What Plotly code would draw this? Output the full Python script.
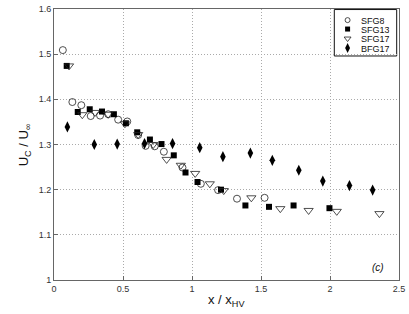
import plotly.graph_objects as go

sfg8_x = [0.064, 0.133, 0.198, 0.266, 0.334, 0.393, 0.465, 0.531, 0.610, 0.664, 0.730, 0.796, 0.931, 1.064, 1.189, 1.326, 1.526]
sfg8_y = [1.509, 1.394, 1.387, 1.363, 1.364, 1.367, 1.355, 1.351, 1.321, 1.297, 1.296, 1.284, 1.249, 1.213, 1.199, 1.180, 1.182]

sfg13_x = [0.092, 0.172, 0.259, 0.348, 0.434, 0.521, 0.603, 0.695, 0.779, 0.868, 0.953, 1.040, 1.210, 1.387, 1.558, 1.736, 1.996]
sfg13_y = [1.474, 1.372, 1.378, 1.373, 1.367, 1.347, 1.327, 1.311, 1.301, 1.276, 1.238, 1.217, 1.200, 1.165, 1.162, 1.165, 1.159]

sfg17_x = [0.109, 0.205, 0.297, 0.392, 0.514, 0.610, 0.719, 0.816, 0.919, 1.023, 1.129, 1.230, 1.430, 1.640, 1.845, 2.049, 2.358]
sfg17_y = [1.474, 1.366, 1.371, 1.367, 1.346, 1.322, 1.300, 1.267, 1.254, 1.236, 1.213, 1.198, 1.182, 1.158, 1.154, 1.152, 1.147]

bfg17_x = [0.097, 0.292, 0.458, 0.656, 0.859, 1.056, 1.224, 1.423, 1.582, 1.774, 1.948, 2.141, 2.309]
bfg17_y = [1.339, 1.300, 1.301, 1.302, 1.302, 1.293, 1.273, 1.281, 1.265, 1.243, 1.219, 1.209, 1.199]

series_names = ["SFG8", "SFG13", "SFG17", "BFG17"]

x_ticks = [0, 0.5, 1, 1.5, 2, 2.5]
x_labels = ["0", "0.5", "1", "1.5", "2", "2.5"]
y_ticks = [1, 1.1, 1.2, 1.3, 1.4, 1.5, 1.6]
y_labels = ["1", "1.1", "1.2", "1.3", "1.4", "1.5", "1.6"]

styles = [
    dict(symbol="circle-open", size=7, color="#222", line=dict(width=0.8)),
    dict(symbol="square", size=6, color="#000"),
    dict(symbol="triangle-down-open", size=8, color="#222", line=dict(width=0.8)),
    dict(symbol="diamond-tall", size=8, color="#000"),
]
legend_styles = [
    dict(symbol="circle-open", size=5, color="#222", line=dict(width=0.8)),
    dict(symbol="square", size=5, color="#000"),
    dict(symbol="triangle-down-open", size=6, color="#222", line=dict(width=0.8)),
    dict(symbol="diamond-tall", size=7, color="#000"),
]

fig = go.Figure()
for name, xs, ys, st in zip(series_names, [sfg8_x, sfg13_x, sfg17_x, bfg17_x],
                            [sfg8_y, sfg13_y, sfg17_y, bfg17_y], styles):
    fig.add_trace(go.Scatter(x=xs, y=ys, mode="markers", name=name, marker=st, showlegend=False))

# hand-drawn legend (overlay axes spanning the plot area, range 0..1)
leg_rows = [0.959, 0.926, 0.891, 0.856]
for name, yy, st in zip(series_names, leg_rows, legend_styles):
    fig.add_trace(go.Scatter(x=[0.851], y=[yy], mode="markers", marker=st, xaxis="x2", yaxis="y2",
                             showlegend=False, hoverinfo="skip"))
    fig.add_annotation(x=0.887, y=yy, xref="x2", yref="y2", text=name, showarrow=False,
                       xanchor="left", yanchor="middle", font=dict(size=9, color="#111"),
                       height=9, valign="middle", borderpad=0)
fig.add_shape(type="rect", x0=0.8125, x1=0.9933, y0=0.8266, y1=0.998, xref="x2", yref="y2",
              line=dict(color="#111", width=1), fillcolor="white", layer="below")

axis_common = dict(showline=True, linecolor="#666", linewidth=1, mirror=True,
                   ticks="inside", ticklen=4, tickcolor="#666",
                   showgrid=True, gridcolor="#aaa", griddash="1px,2px", gridwidth=1,
                   zeroline=False, tickfont=dict(size=9, color="#333"), automargin=False)

fig.update_layout(
    xaxis=dict(range=[0, 2.5], tickvals=x_ticks, ticktext=x_labels, **axis_common),
    yaxis=dict(range=[1, 1.6], tickvals=y_ticks, ticktext=y_labels, **axis_common),
    xaxis2=dict(overlaying="x", range=[0, 1], visible=False, domain=[0, 1]),
    yaxis2=dict(overlaying="y", range=[0, 1], visible=False, domain=[0, 1], anchor="x2"),
)

fig.add_annotation(x=0.5, y=-0.074, xref="paper", yref="paper", yanchor="middle",
                   text="x / x<sub>HV</sub>", showarrow=False, font=dict(size=13, color="#111"))
fig.add_annotation(x=-0.115, y=0.5, xref="paper", yref="paper", textangle=-90,
                   text="U<sub>C</sub> / U<sub>∞</sub>", showarrow=False, font=dict(size=13, color="#111"))
fig.add_annotation(x=2.35, y=1.027, xref="x", yref="y", text="<i>(c)</i>", showarrow=False,
                   font=dict(size=10, color="#111"))

fig.update_layout(
    width=409, height=314,
    margin=dict(l=54, r=10, t=9, b=34),
    paper_bgcolor="white", plot_bgcolor="white",
    font=dict(family="Liberation Sans, Arial, sans-serif", color="#111"),
    showlegend=False,
)

fig.write_html("out.html", config={"displayModeBar": False},
               post_script="document.body.style.margin='0px';")
